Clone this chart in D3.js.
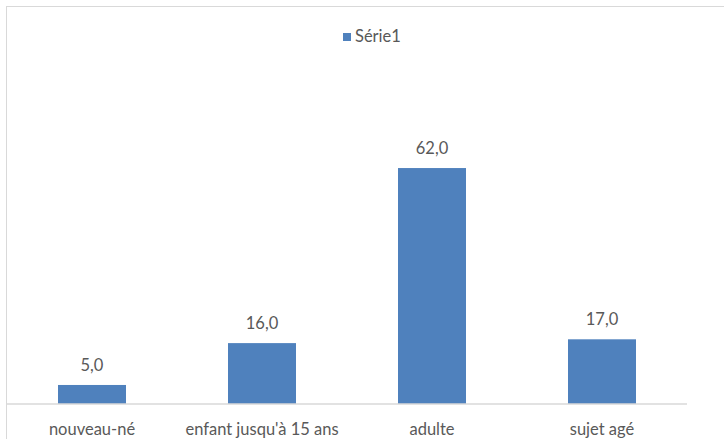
<!DOCTYPE html>
<html><head><meta charset="utf-8">
<script src="https://cdn.jsdelivr.net/npm/d3@7"></script>
<style>body{margin:0;background:#fff}svg{display:block}text{font-family:Lato,"Open Sans",sans-serif;fill:#595959}</style>
</head><body>
<svg id="c" width="724" height="439"></svg>
<script>
const categories = ["nouveau-né", "enfant jusqu'à 15 ans", "adulte", "sujet agé"];
const values = [5.0, 16.0, 62.0, 17.0];
const seriesName = "Série1";

const svg = d3.select("#c");
svg.append("rect").attr("x",6.5).attr("y",6.5).attr("width",740).attr("height",460)
  .attr("fill","none").attr("stroke","#d9d9d9");

const x = d3.scaleBand().domain(categories).range([7,687]).paddingInner(0.6).paddingOuter(0.3);
const y = d3.scaleLinear().domain([0,70]).range([404,137.6]);

svg.append("g").selectAll("rect").data(values).join("rect")
  .attr("x",(d,i)=>x(categories[i])).attr("y",d=>y(d))
  .attr("width",x.bandwidth()).attr("height",d=>y(0)-y(d)).attr("fill","#4f81bd");

svg.append("g").selectAll("text").data(values).join("text")
  .attr("x",(d,i)=>x(categories[i])+x.bandwidth()/2).attr("y",d=>y(d)-14)
  .attr("text-anchor","middle").attr("font-size",16.5)
  .text(d=>d.toFixed(1).replace(".",","));

const xa = svg.append("g").attr("transform","translate(0,404)")
  .call(d3.axisBottom(x).tickSize(0).tickPadding(0));
xa.select(".domain").attr("stroke","#d9d9d9").attr("stroke-width",1.5).attr("d","M7,0H687");
xa.selectAll("text").attr("dy",null).attr("y",31).attr("font-size",16.5)
  .style("font-family","Lato,'Open Sans',sans-serif").attr("fill","#595959");

const lg = svg.append("g");
lg.append("rect").attr("x",343).attr("y",33).attr("width",8).attr("height",8).attr("fill","#4f81bd");
lg.append("text").attr("x",355).attr("y",42).attr("font-size",16.5).text(seriesName);
</script>
</body></html>
